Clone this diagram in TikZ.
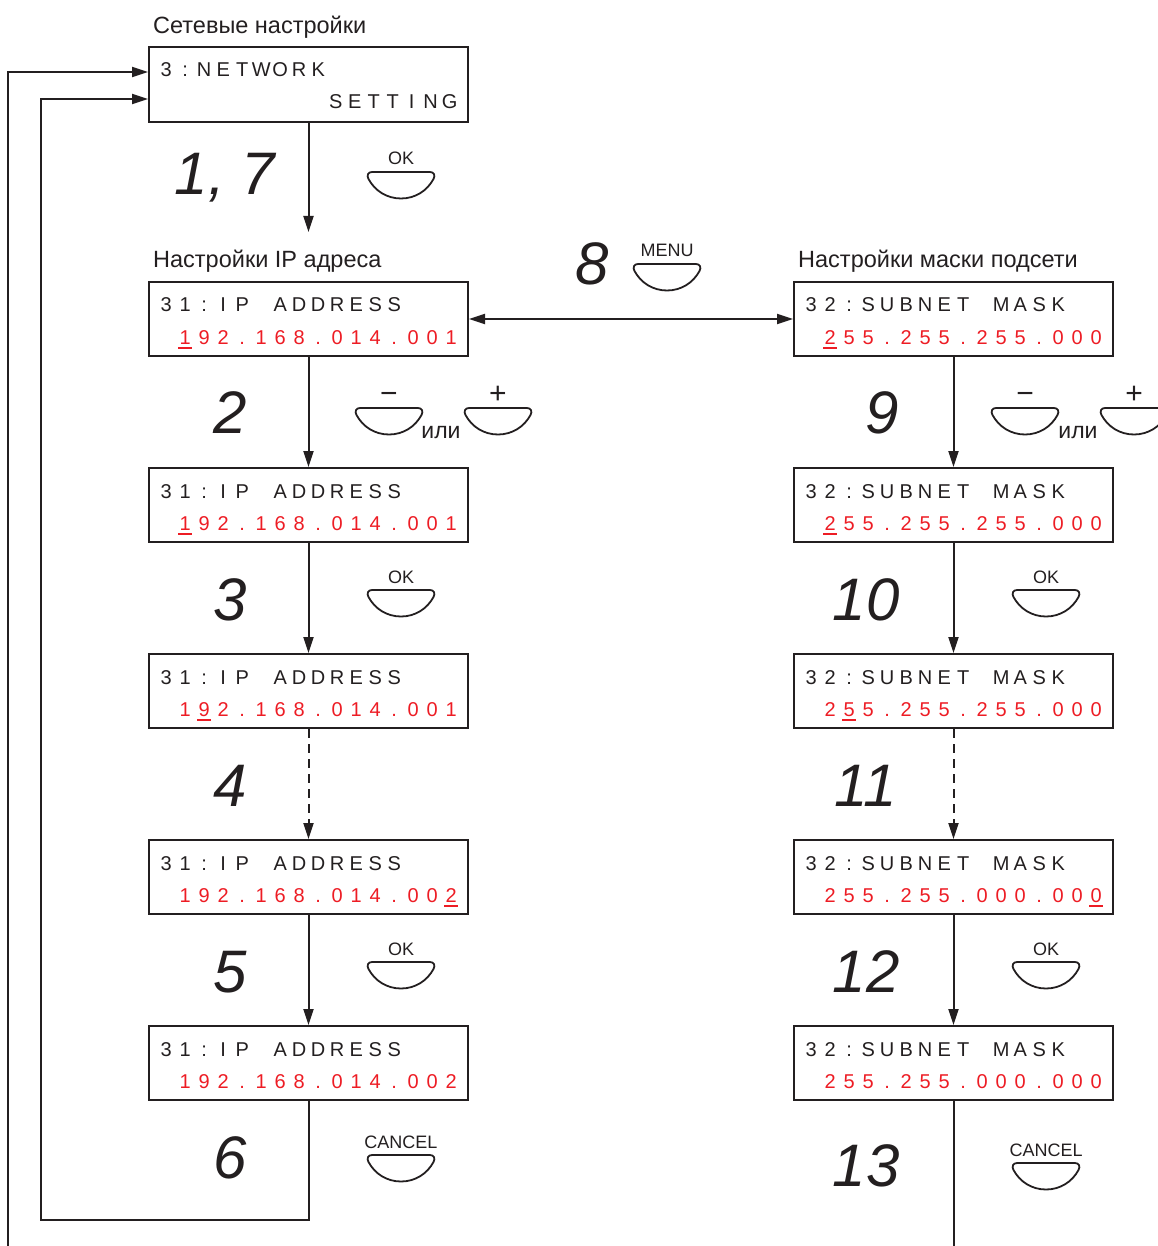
\documentclass[tikz,border=0pt]{standalone}
\usepackage{fontspec}
\setmainfont{Liberation Sans}
\usetikzlibrary{arrows.meta}
\definecolor{lcdred}{RGB}{237,28,36}
\definecolor{ink}{RGB}{35,31,32}
\newcommand\lcdrow[1]{\lcdstep#1\relax}
\def\lcdstep#1{\ifx\relax#1\else\makebox[19pt]{\ifx*#1\else#1\fi}\expandafter\lcdstep\fi}
\tikzset{
  lcdbox/.style={draw=ink, line width=2pt, minimum width=319pt, minimum height=74pt, inner sep=0pt},
  lcdtxt/.style={anchor=base west, inner sep=0pt, text=ink, font=\fontsize{20}{20}\selectfont},
  uline/.style={draw=lcdred, line width=2pt},
  conn/.style={draw=ink, line width=2pt, -{Triangle[length=16pt,width=10pt]}},
  plainline/.style={draw=ink, line width=2pt},
  stepnum/.style={anchor=base, inner sep=0pt, text=ink, font=\fontsize{60}{60}\selectfont\itshape},
  heading/.style={anchor=base west, inner sep=0pt, text=ink, font=\fontsize{23.5}{23.5}\selectfont},
  btnlbl/.style={anchor=base, inner sep=0pt, text=ink, font=\fontsize{18}{18}\selectfont},
  signlbl/.style={anchor=base, inner sep=0pt, text=ink, font=\fontsize{30}{30}\selectfont},
  orlbl/.style={anchor=base, inner sep=0pt, text=ink, font=\fontsize{23}{23}\selectfont},
  btnline/.style={draw=ink, line width=1.8pt},
  btn/.pic={\draw[btnline] (-29,0) -- (29,0) .. controls (33,0) and (34.5,3.5) .. (32.5,7) .. controls (26,19) and (14,26.5) .. (0,26.5) .. controls (-14,26.5) and (-26,19) .. (-32.5,7) .. controls (-34.5,3.5) and (-33,0) .. (-29,0) -- cycle;}
}
\newcommand\lcdscreen[6]{%
  \node[lcdbox] (#1) at (#2,#3+37) {};
  \node[lcdtxt] (#1-top) at (#2-152,#3+30) {\lcdrow{#4}};
  \node[lcdtxt,text=lcdred] (#1-val) at (#2-152,#3+62) {\lcdrow{#5}};
  \ifnum#6>0 \draw[uline] (#2-152+19*#6+2.5,#3+66) -- (#2-152+19*#6+16.5,#3+66);\fi
}
\begin{document}
\begin{tikzpicture}[x=1pt,y=-1pt]
\useasboundingbox (0,0) rectangle (1157,1246);
% headings
\node[heading] (hNet) at (153,34) {Сетевые настройки};
\node[heading] (hIP) at (153,268) {Настройки IP адреса};
\node[heading] (hMask) at (798,268) {Настройки маски подсети};
% top screen
\node[lcdbox, minimum height=75pt] (T) at (308.5,84.5) {};
\node[lcdtxt] (T-top) at (156.5,77) {\lcdrow{3:NETWORK}};
\node[lcdtxt] (T-bot) at (155,109) {\lcdrow{*********SETTING}};
% left screens
\lcdscreen{L1}{308.5}{282}{31:IP*ADDRESS}{*192.168.014.001}{1}
\lcdscreen{L2}{308.5}{468}{31:IP*ADDRESS}{*192.168.014.001}{1}
\lcdscreen{L3}{308.5}{654}{31:IP*ADDRESS}{*192.168.014.001}{2}
\lcdscreen{L4}{308.5}{840}{31:IP*ADDRESS}{*192.168.014.002}{15}
\lcdscreen{L5}{308.5}{1026}{31:IP*ADDRESS}{*192.168.014.002}{0}
% right screens
\lcdscreen{R1}{953.5}{282}{32:SUBNET*MASK}{*255.255.255.000}{1}
\lcdscreen{R2}{953.5}{468}{32:SUBNET*MASK}{*255.255.255.000}{1}
\lcdscreen{R3}{953.5}{654}{32:SUBNET*MASK}{*255.255.255.000}{2}
\lcdscreen{R4}{953.5}{840}{32:SUBNET*MASK}{*255.255.000.000}{15}
\lcdscreen{R5}{953.5}{1026}{32:SUBNET*MASK}{*255.255.000.000}{0}
% connectors
\coordinate (c17) at (308.5,232);
\draw[conn] (T.south) -- (c17);
\draw[conn] (L1.south) -- (L2.north);
\draw[conn] (L2.south) -- (L3.north);
\draw[conn, dash pattern=on 9pt off 6pt] (L3.south) -- (L4.north);
\draw[conn] (L4.south) -- (L5.north);
\draw[conn] (R1.south) -- (R2.north);
\draw[conn] (R2.south) -- (R3.north);
\draw[conn, dash pattern=on 9pt off 6pt] (R3.south) -- (R4.north);
\draw[conn] (R4.south) -- (R5.north);
\draw[conn, {Triangle[length=16pt,width=10pt]}-{Triangle[length=16pt,width=10pt]}] (L1.east) -- (R1.west);
% return loops
\coordinate (inA) at (41,1220);
\coordinate (inB) at (41,99);
\draw[conn] (L5.south) |- (inA) -- (inB) -- (T.west |- inB);
\coordinate (outA) at (8,1246);
\coordinate (outB) at (8,72);
\draw[conn] (outA) -- (outB) -- (T.west |- outB);
\coordinate (rEnd) at (953.5,1246);
\draw[plainline] (R5.south) -- (rEnd);
% step numbers
\node[stepnum] (s17) at (225,195) {1, 7};
\node[stepnum] (s2) at (230,433) {2};
\node[stepnum] (s3) at (230,620) {3};
\node[stepnum] (s4) at (230,806) {4};
\node[stepnum] (s5) at (230,992) {5};
\node[stepnum] (s6) at (230,1178) {6};
\node[stepnum] (s8) at (592,284) {8};
\node[stepnum] (s9) at (882,433) {9};
\node[stepnum] (s10) at (866,620) {10};
\node[stepnum] (s11) at (866,806) {11};
\node[stepnum] (s12) at (866,992) {12};
\node[stepnum] (s13) at (866,1186) {13};
% buttons
\pic at (401,172) {btn}; \node[btnlbl] (lOK1) at (401,165) {OK};
\pic at (401,590) {btn}; \node[btnlbl] (lOK3) at (401,583) {OK};
\pic at (401,962) {btn}; \node[btnlbl] (lOK5) at (401,955) {OK};
\pic at (401,1155) {btn}; \node[btnlbl] (lCan6) at (401,1148) {CANCEL};
\pic at (667,264) {btn}; \node[btnlbl] (lMenu) at (667,257) {MENU};
\pic at (1046,590) {btn}; \node[btnlbl] (lOK10) at (1046,583) {OK};
\pic at (1046,962) {btn}; \node[btnlbl] (lOK12) at (1046,955) {OK};
\pic at (1046,1163) {btn}; \node[btnlbl] (lCan13) at (1046,1156) {CANCEL};
% minus / plus
\pic at (389,408) {btn}; \node[signlbl] (mL) at (389,403) {−};
\pic at (498,408) {btn}; \node[signlbl] (pL) at (498,403) {+};
\node[orlbl] (orL) at (441,438) {или};
\pic at (1025,408) {btn}; \node[signlbl] (mR) at (1025,403) {−};
\pic at (1134,408) {btn}; \node[signlbl] (pR) at (1134,403) {+};
\node[orlbl] (orR) at (1078,438) {или};
\end{tikzpicture}
\end{document}
